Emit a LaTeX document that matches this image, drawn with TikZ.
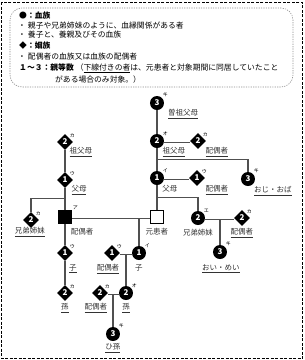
\documentclass[tikz,border=0pt]{standalone}
\usepackage{fontspec}
\setmainfont{Noto Sans CJK JP}
\usepackage{tikz}
\usetikzlibrary{positioning,shapes.geometric,calc}
\definecolor{linegray}{HTML}{505050}
\definecolor{textgray}{HTML}{333333}
\definecolor{dotgray}{HTML}{8C8C8C}

\begin{document}
\begin{tikzpicture}[x=1pt,y=-1pt,
  blood/.style={circle,fill=black,text=white,minimum size=14pt,inner sep=0pt,font=\fontsize{8}{8}\selectfont\bfseries},
  inlaw/.style={diamond,fill=black,text=white,minimum size=16pt,inner sep=0pt,font=\fontsize{8}{8}\selectfont\bfseries},
  self/.style={rectangle,draw=black,line width=1.2pt,minimum size=13pt,inner sep=0pt},
  kana/.style={font=\fontsize{5}{5}\selectfont,inner sep=0.5pt,text=black},
  nm/.style={font=\fontsize{7.5}{8}\selectfont,text=textgray,inner sep=0pt},
  hd/.style={anchor=west,inner sep=0pt,font=\fontsize{7.8}{8}\selectfont},
  link/.style={draw=linegray,line width=1.1pt},
  marry/.style={draw=linegray,line width=0.7pt,double=white,double distance=1.6pt}
]
  \useasboundingbox (0,0) rectangle (305,360);
  \draw[line width=1pt,dash pattern=on 3pt off 1.5pt] (1.5,2) rectangle (302.5,358.5);
  \draw[dotgray,line width=0.6pt,dash pattern=on 1.2pt off 1.2pt,rounded corners=12pt] (10,8) rectangle (293,87);

  % legend
  \node[hd] (h1) at (19,16) {\bfseries ●：血族};
  \node[hd] (h2) at (18,26) {・\hspace{2pt}親子や兄弟姉妹のように、血縁関係がある者};
  \node[hd] (h3) at (18,35) {・\hspace{2pt}養子と、養親及びその血族};
  \node[hd] (h4) at (19,46) {\bfseries ◆：姻族};
  \node[hd] (h5) at (18,57) {・\hspace{2pt}配偶者の血族又は血族の配偶者};
  \node[hd] (h6) at (19,68) {\textbf{１～３：親等数}\hspace{2pt}（\underline{下線付きの者}は、元患者と対象期間に同居していたこと};
  \node[hd] (h7) at (55,80) {がある場合のみ対象。）};

  % patient side
  \node[blood,label={[kana]45:キ}] (ggp) at (157,103) {3};
  \node[blood,label={[kana]45:オ}] (gpR) at (157,141) {2};
  \node[inlaw,label={[kana]45:カ}] (gpSp) at (198,141) {2};
  \node[blood,label={[kana]45:イ}] (pR) at (157,178) {1};
  \node[inlaw,label={[kana]45:ウ}] (pSp) at (197,178) {1};
  \node[blood,label={[kana]45:キ}] (unc) at (248,179) {3};
  \node[self,fill=white] (pat) at (157,217) {};
  \node[blood,label={[kana]45:エ}] (sibR) at (198,218) {2};
  \node[inlaw,label={[kana]45:カ}] (sibSp) at (242,218) {2};
  \node[blood,label={[kana]45:キ}] (niece) at (220,252) {3};

  % spouse side
  \node[inlaw,label={[kana]45:カ}] (gpL) at (65,142) {2};
  \node[inlaw,label={[kana]45:ウ}] (pL) at (65,180) {1};
  \node[inlaw,label={[kana]45:カ}] (sibL) at (31,220) {2};
  \node[self,fill=black,label={[kana]45:ア}] (me) at (65,217) {};
  \node[inlaw,label={[kana]45:ウ}] (cL) at (65,253) {1};
  \node[inlaw,label={[kana]45:ウ}] (cSp) at (112,253) {1};
  \node[blood,label={[kana]45:イ}] (cR) at (139,253) {1};
  \node[inlaw,label={[kana]45:カ}] (gcL) at (65,293) {2};
  \node[inlaw,label={[kana]45:カ}] (gcSp) at (100,293) {2};
  \node[blood,label={[kana]45:オ}] (gcR) at (126,293) {2};
  \node[blood,label={[kana]45:キ}] (ggc) at (113,334) {3};

  % names
  \node[nm] (ggpt) at (183,114) {\underline{曽祖父母}};
  \node[nm] (gpRt) at (174,152) {\underline{祖父母}};
  \node[nm] (gpSpt) at (217,152) {\underline{配偶者}};
  \node[nm] (pRt) at (170,189) {父母};
  \node[nm] (pSpt) at (217,190) {\underline{配偶者}};
  \node[nm] (unct) at (273,191) {\underline{おじ・おば}};
  \node[nm] (patt) at (157,232) {元患者};
  \node[nm] (sibRt) at (198,233) {兄弟姉妹};
  \node[nm] (sibSpt) at (242,233) {\underline{配偶者}};
  \node[nm] (niecet) at (221,269) {\underline{おい・めい}};
  \node[nm] (gpLt) at (81,152) {\underline{祖父母}};
  \node[nm] (pLt) at (79,190) {\underline{父母}};
  \node[nm] (sibLt) at (30,232) {\underline{兄弟姉妹}};
  \node[nm] (met) at (82,232) {配偶者};
  \node[nm] (cLt) at (73,269) {\underline{子}};
  \node[nm] (cSpt) at (108,269) {\underline{配偶者}};
  \node[nm] (cRt) at (139,268) {子};
  \node[nm] (gcLt) at (65,308) {\underline{孫}};
  \node[nm] (gcSpt) at (96,308) {\underline{配偶者}};
  \node[nm] (gcRt) at (126,308) {\underline{孫}};
  \node[nm] (ggct) at (113,348) {\underline{ひ孫}};

  % lines
  \draw[link] (ggp) -- (gpR);
  \draw[link] (gpR) -- (pR);
  \draw[link] (pR) -- (pat);
  \draw[link] ($(gpR)!.5!(pR)$) -| (unc);
  \draw[link] ($(pR)!.5!(pat)$) -| (sibR);
  \draw[link] (niece |- sibR) -- (niece);
  \draw[link] (gpL) -- (pL);
  \draw[link] (pL) -- (me);
  \draw[link] ($(pL)!.5!(me)$) -| (sibL);
  \draw[link] (me) -- (cL);
  \draw[link] (cL) -- (gcL);
  \draw[link] (cR |- me) -- (cR);
  \draw[link] (gcR |- cR) -- (gcR);
  \draw[link] (ggc |- gcR) -- (ggc);

  % marriages
  \draw[marry] (gpR) -- (gpSp);
  \draw[marry] (pR) -- (pSp);
  \draw[marry] (sibR) -- (sibSp);
  \draw[marry] (me) -- (pat);
  \draw[marry] (cSp) -- (cR);
  \draw[marry] (gcSp) -- (gcR);
\end{tikzpicture}
\end{document}
